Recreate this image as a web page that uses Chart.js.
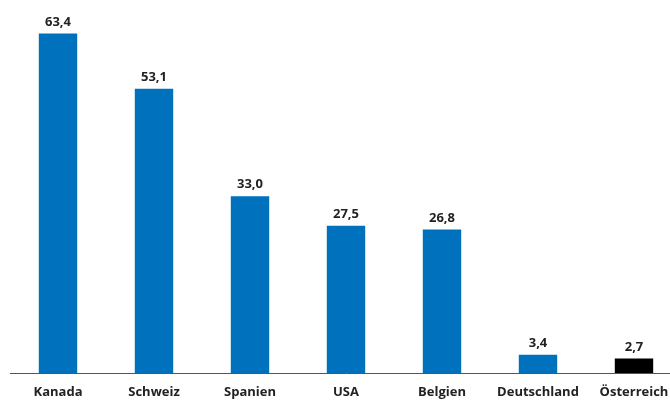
<!DOCTYPE html>
<html>
<head>
<meta charset="utf-8">
<script src="https://cdn.jsdelivr.net/npm/chart.js@4/dist/chart.umd.min.js"></script>
<style>
  html, body { margin: 0; padding: 0; background: #fff; overflow: hidden; }
  #wrap { width: 670px; height: 409px; overflow: hidden; }
  canvas { display: block; }
</style>
</head>
<body>
<div id="wrap"><canvas id="c" width="682" height="409"></canvas></div>
<script>
const categories = ['Kanada', 'Schweiz', 'Spanien', 'USA', 'Belgien', 'Deutschland', 'Österreich'];
const values = [63.4, 53.1, 33.0, 27.5, 26.8, 3.4, 2.7];
const barColors = ['#0071bc', '#0071bc', '#0071bc', '#0071bc', '#0071bc', '#0071bc', '#000000'];

const FONT = '"Open Sans", "DejaVu Sans", sans-serif';

// writes each bar's value (decimal comma) just above the bar
const valueLabels = {
  id: 'valueLabels',
  afterDatasetsDraw(chart) {
    const ctx = chart.ctx;
    const meta = chart.getDatasetMeta(0);
    ctx.save();
    ctx.font = '700 13px ' + FONT;
    ctx.fillStyle = '#222222';
    ctx.textAlign = 'center';
    ctx.textBaseline = 'alphabetic';
    meta.data.forEach((bar, i) => {
      const v = chart.data.datasets[0].data[i];
      ctx.fillText(v.toFixed(1).replace('.', ','), bar.x, bar.y - 8);
    });
    ctx.restore();
  }
};

new Chart(document.getElementById('c'), {
  type: 'bar',
  data: {
    labels: categories,
    datasets: [{
      data: values,
      backgroundColor: barColors,
      borderWidth: 0,
      barPercentage: 0.4,
      categoryPercentage: 1.0
    }]
  },
  options: {
    responsive: false,
    animation: false,
    layout: { padding: { top: 9, left: 10, right: 0, bottom: 0 } },
    plugins: { legend: { display: false }, tooltip: { enabled: false } },
    scales: {
      x: {
        grid: { display: false, drawTicks: false },
        border: { display: true, color: '#555555', width: 1 },
        ticks: {
          color: '#222222',
          font: { family: FONT, size: 13, weight: '700' },
          padding: 11,
          maxRotation: 0,
          autoSkip: false
        },
        afterFit(scale) { scale.height = 36; }
      },
      y: {
        display: false,
        min: 0,
        max: 68
      }
    }
  },
  plugins: [valueLabels]
});
</script>
</body>
</html>
